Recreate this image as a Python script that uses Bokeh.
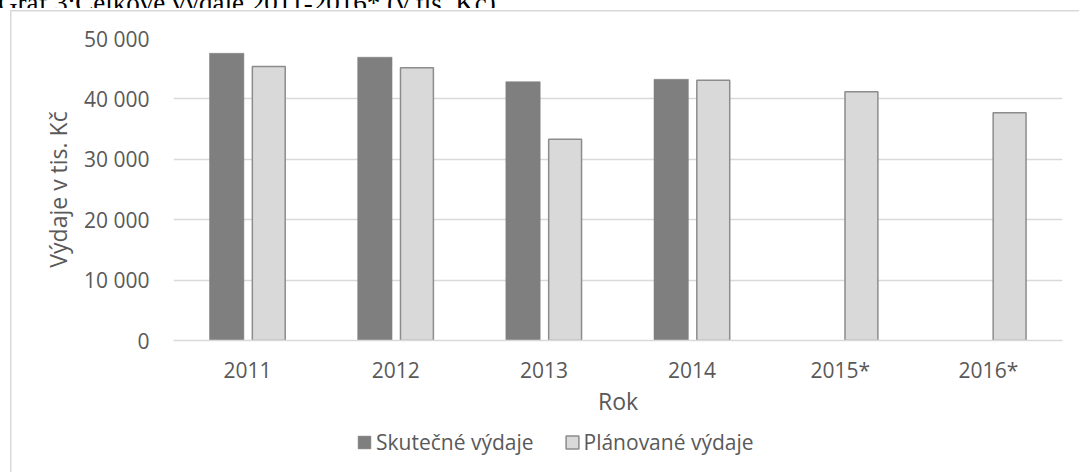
from bokeh.plotting import figure
from bokeh.models import (ColumnDataSource, FactorRange, Range1d, Legend, LegendItem, Div)
from bokeh.layouts import column
from bokeh.transform import dodge
from bokeh.embed import file_html
from bokeh.resources import INLINE

# ---- data ----
years = ["2011", "2012", "2013", "2014", "2015*", "2016*"]
actual_years = ["2011", "2012", "2013", "2014"]
skutecne = [47550, 46900, 42850, 43250]
planovane = [45350, 45150, 33300, 43100, 41200, 37700]
y_ticks = [0, 10000, 20000, 30000, 40000, 50000]
y_tick_labels = ["0", "10 000", "20 000", "30 000", "40 000", "50 000"]
series_names = ["Skutečné výdaje", "Plánované výdaje"]
title_text = "Graf 3:Celkové výdaje 2011-2016* (v tis. Kč)"
x_title = "Rok"
y_title = "Výdaje v tis. Kč"

FONT = "Open Sans"
TXT = "#595959"
GRID = "#d9d9d9"
DARK = dict(fill_color="#7f7f7f", line_color="#7f7f7f", line_width=0.5)
LIGHT = dict(fill_color="#d9d9d9", line_color="#8c8c8c", line_width=1.5)

src_a = ColumnDataSource(dict(x=actual_years, y=skutecne))
src_p = ColumnDataSource(dict(x=years, y=planovane))

p = figure(frame_width=889, frame_height=302, output_backend="svg", toolbar_location=None,
           x_range=FactorRange(factors=years), y_range=Range1d(0, 50000),
           min_border_left=173, min_border_right=17, min_border_top=30, min_border_bottom=80)
p.outline_line_color = None
p.background_fill_color = "white"
p.border_fill_color = None
p.border_fill_alpha = 0

r1 = p.vbar(x=dodge("x", -0.141, range=p.x_range), top="y", width=0.232, source=src_a, **DARK)
r2 = p.vbar(x=dodge("x", 0.143, range=p.x_range), top="y", width=0.222, source=src_p, **LIGHT)

# axes
p.xgrid.grid_line_color = None
p.ygrid.grid_line_color = GRID
p.ygrid.grid_line_width = 1.5
p.yaxis.ticker = y_ticks
p.yaxis.major_label_overrides = dict(zip(y_ticks, y_tick_labels))
p.yaxis.axis_line_color = None
p.yaxis.major_tick_line_color = None
p.yaxis.minor_tick_line_color = None
p.yaxis.major_label_standoff = 18
p.yaxis.axis_label = y_title
p.yaxis.axis_label_standoff = 7

p.xaxis.axis_line_color = GRID
p.xaxis.axis_line_width = 1.5
p.xaxis.major_tick_line_color = None
p.xaxis.major_label_standoff = 9
p.xaxis.axis_label = x_title
p.xaxis.axis_label_standoff = -2

for ax in (p.xaxis, p.yaxis):
    ax.major_label_text_font = FONT
    ax.major_label_text_font_size = "21px"
    ax.major_label_text_color = TXT
    ax.axis_label_text_font = FONT
    ax.axis_label_text_font_size = "23px"
    ax.axis_label_text_font_style = "normal"
    ax.axis_label_text_color = TXT

# legend strip: a small plot (same frame alignment) that only holds the legend;
# its renderers reuse the data, but their factors are not on its range, so no bars are drawn
lp = figure(frame_width=889, frame_height=52, output_backend="svg", toolbar_location=None,
            x_range=FactorRange(factors=["legend"]), y_range=Range1d(0, 1),
            min_border_left=173, min_border_right=17, min_border_top=0, min_border_bottom=0,
            x_axis_location=None, y_axis_location=None)
lp.grid.grid_line_color = None
lp.outline_line_color = None
lp.background_fill_color = None
lp.background_fill_alpha = 0
lp.border_fill_color = None
lp.border_fill_alpha = 0
l1 = lp.vbar(x="x", top="y", width=0.232, source=src_a, **DARK)
l2 = lp.vbar(x="x", top="y", width=0.222, source=src_p, **LIGHT)
legend = Legend(items=[LegendItem(label=series_names[0], renderers=[l1]),
                       LegendItem(label=series_names[1], renderers=[l2])],
                orientation="horizontal", location=(183, 16),
                glyph_width=16, glyph_height=16, label_standoff=4, spacing=30,
                padding=0, margin=0, border_line_color=None, background_fill_alpha=0,
                label_text_font=FONT, label_text_font_size="21px", label_text_color=TXT)
lp.add_layout(legend, "center")

# cut-off caption above the chart (only its lower part is visible)
caption = Div(text=('<div style="font-family:\'Liberation Serif\';font-size:27px;'
                    'line-height:30px;white-space:nowrap;margin:-18px 0 0 -2px;'
                    'color:#000;">' + title_text + '</div>'),
              width=1079, height=8, margin=0, styles={"overflow": "hidden"})

border_css = ("linear-gradient(#d9d9d9,#d9d9d9) 10px 10px / 1.5px 100% no-repeat, "
              "linear-gradient(#d9d9d9,#d9d9d9) 10px 10px / 100% 1.5px no-repeat")
layout = column(caption, p, lp, spacing=0, styles={"background": border_css})
open("out.html", "w").write(file_html(layout, INLINE))
